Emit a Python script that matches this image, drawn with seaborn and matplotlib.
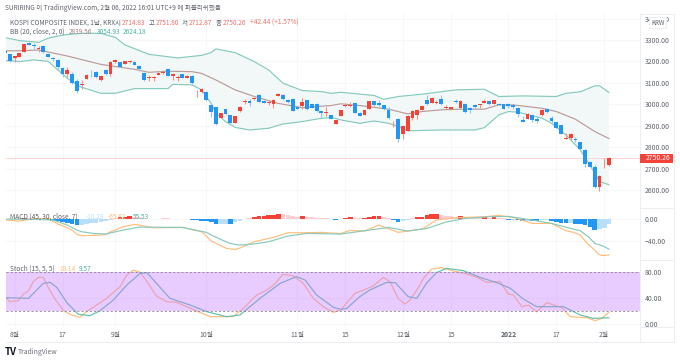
import numpy as np
import seaborn as sns
import matplotlib.pyplot as plt
from matplotlib.lines import Line2D
from matplotlib.patches import Rectangle

# candles
opens = [3249,3235,3218,3221,3244,3284,3277,3260,3272,3236,3216,3205,3168,3143,3140,3110,3090,3120,3152,3151,
         3115,3160,3141,3196,3196,3188,3199,3199,3180,3148,3123,3121,3137,3148,3165,3130,3124,3140,3123,3134,
         3056,3056,3056,2997,2986,2938,2978,2948,2913,2967,3011,3017,3023,3043,3014,3006,3001,3039,3045,3022,
         3025,2986,2992,3020,3000,3003,2967,2959,2948,2910,2946,2992,2994,3005,2961,2952,2980,3013,3008,2995,
         2974,2907,2932,2859,2876,2935,2950,2974,3020,3006,3008,3023,2981,2978,3014,2983,3002,2981,2995,2997,
         3008,3016,3003,3003,3000,2999,2997,2983,2927,2933,2949,2932,2949,2980,2936,2916,2901,2840,2841,2838,
         2824,2787,2731,2708,2614,2706,2714.83]
closes = [3241,3202,3224,3238,3280,3277,3270,3263,3244,3222,3210,3172,3143,3158,3099,3064,3093,3138,3149,3127,
          3132,3141,3199,3207,3176,3200,3204,3185,3163,3113,3126,3126,3148,3152,3132,3140,3129,3124,3134,3098,
          3059,3070,3020,2962,2908,2958,2956,2914,2944,2989,3014,3008,3029,3012,3008,3009,3020,3050,3023,3009,
          2970,2980,3012,2976,2983,2967,2961,2964,2931,2925,2971,2997,2997,2961,2947,2971,3013,2997,2995,2977,
          2935,2910,2838,2899,2946,2969,2974,2992,3003,3030,3011,3003,2985,2985,3009,3017,2963,2971,2985,3000,
          3013,2999,3019,2997,2980,2992,2989,2953,2919,2955,2927,2924,2974,2963,2921,2890,2863,2841,2862,2832,
          2790,2720,2708,2613,2664,2708,2750.26]
highs = [3253,3236,3227,3239,3281,3292,3284,3274,3277,3239,3222,3210,3176,3176,3149,3120,3112,3140,3160,3157,
         3137,3165,3204,3213,3198,3202,3207,3201,3185,3150,3137,3134,3150,3162,3166,3144,3135,3143,3136,3136,
         3067,3076,3060,3004,2989,2961,2980,2950,2946,2991,3023,3023,3033,3046,3020,3020,3023,3052,3047,3025,
         3029,2989,3028,3022,3002,3005,2970,2989,2950,2927,2973,3005,3011,3007,2966,2973,3015,3017,3020,2997,
         2986,2924,2935,2905,2948,2974,2977,2994,3041,3032,3020,3045,2997,2989,3023,3019,3005,2986,3002,3002,
         3023,3018,3021,3005,3002,3008,3002,2986,2946,2957,2952,2943,2976,2983,2946,2918,2903,2868,2868,2846,
         2826,2790,2734,2717,2670,2748,2751.80]
lows = [3238,3199,3197,3220,3243,3275,3256,3246,3238,3219,3204,3160,3126,3126,3096,3051,3070,3118,3129,3124,
        3110,3135,3134,3191,3175,3186,3191,3183,3157,3110,3109,3110,3135,3143,3131,3113,3110,3122,3121,3096,
        3032,3051,3014,2942,2903,2935,2954,2912,2911,2965,3003,2992,3020,3011,3004,2997,2983,3037,3021,3006,
        2967,2977,2980,2974,2981,2964,2934,2945,2929,2908,2944,2986,2989,2959,2943,2950,2978,2992,2989,2975,
        2930,2896,2826,2837,2874,2927,2930,2972,2997,3004,2999,2997,2977,2974,3005,2981,2958,2961,2978,2983,
        3005,2997,3001,2995,2978,2983,2980,2939,2918,2931,2918,2911,2947,2961,2911,2888,2861,2837,2834,2826,
        2788,2706,2706,2611,2593,2704,2712.87]

# bollinger bands
upper_x = [0,3,7,9,12,16,20,23,25,30,36,41,43,44,48,52,55,58,62,66,68,70,77,79,82,87,94,100,103,108,115,117,120,123,124,126]
upper_y = [3311,3297,3289,3308,3323,3331,3331,3312,3277,3233,3216,3228,3241,3258,3241,3199,3160,3098,3064,3059,3051,
           3056,3041,3023,3036,3047,3067,3070,3036,3039,3036,3051,3058,3086,3086,3054.93]
basis_x = [0,4,7,13,20,27,30,34,39,41,44,48,52,57,62,68,70,74,80,84,87,91,95,100,103,106,112,115,119,123,126]
basis_y = [3249,3250,3253,3225,3186,3163,3149,3154,3152,3144,3113,3067,3036,3004,2984,2994,3002,2994,2977,2955,2966,
           2974,2977,2977,2997,2997,2981,2966,2930,2873,2839.56]
lower_x = [0,3,6,9,11,13,15,16,20,23,27,30,34,35,39,41,43,44,46,48,51,55,58,62,64,66,68,70,74,77,80,82,84,91,98,100,
           103,105,107,112,114,117,120,122,124,126]
lower_y = [3204,3199,3207,3200,3160,3121,3090,3079,3051,3051,3073,3073,3073,3093,3090,3067,3004,2958,2919,2892,2880,
           2888,2908,2919,2927,2934,2939,2927,2911,2922,2911,2896,2876,2880,2880,2891,2950,2966,2963,2935,2911,2857,
           2787,2717,2639,2624.18]

# macd
macd_hist = [-1,-1,-1,1,2,2,1,1,-1,-1.5,-2.4,-5,-6,-7,-9,-12,-11,-9,-8.5,-7,-6,-3.6,-2,1,2.5,3.6,5,4,3,1,0.3,-0.5,-1,1,1,
             -0.8,-0.7,-1,-0.8,-1.5,-2.4,-3.6,-3.7,-5.5,-9,-8.9,-8.8,-9.6,-6,-3.6,-1.2,0.6,2.4,5,5.5,6,6.2,8.5,8,6,5,3.8,
             4.2,3,2.4,1.8,1.2,0.6,-1.2,-1.8,-1,1.2,3.6,1.8,0.6,1.8,4,4.1,4.2,2.4,0.6,-1.8,-5.5,-3.6,-2.4,0.6,2.4,3.6,6,
             8.5,8.6,7,5.5,5,4,5,2.4,1.8,1.7,1.2,2.4,1.2,3,1.2,0.6,-1.8,-1.7,-3,-4.8,-3.6,-4.8,-5,-3,-2.4,-4.2,-5.5,-7,
             -8.5,-8.4,-8.8,-10,-12,-14.5,-20,-18,-16,-10.29]
macd_x = [0,3,6,9,11,12.2,14,15,16,18.4,21,21.9,23,24.7,27,28,29,31,37,41,42,43,44.8,46.2,48,49,50.4,52,56,59,62,66,70,
          72,75,78,82,87,90,94,100,103,106,110,114,117,118.6,120,121.3,123,123.8,124.6,126]
macd_y = [-2.4,-4.2,0,0.6,-9.7,-13.3,-20.6,-28.5,-30.9,-30.3,-29,-24.2,-20.6,-14.5,-10.3,-11.5,-13.3,-16.4,-15.8,-23.6,
          -31.5,-40.6,-47.9,-53.9,-55.8,-53.3,-47.9,-41.8,-33.9,-25.5,-25.5,-24.8,-27,-21.2,-22.4,-11.5,-24.8,-18.8,-2.4,
          1.8,3.6,6,2.4,-8.5,-8.5,-21.8,-24.8,-29.7,-43.6,-57,-64.8,-67,-65.8]
signal_x = [0,6,10,13,15,16,18.4,21,24,28,37,42,43.5,45,46.9,49,51.8,55,59,63,70,74,80,84,88,92,96,101,105,110,114,118,
            120,121.7,123,124.8,126]
signal_y = [-0.6,-1.2,-2.4,-11.5,-20.6,-23.6,-26.7,-27.9,-21.8,-15.2,-15.8,-24.8,-31.5,-37.6,-44.8,-47.9,-46,-41.8,-31.5,
            -26.7,-27.9,-23,-15.8,-22.4,-17.6,-6,0.6,3.6,4.2,-2.4,-8.5,-17.6,-21.8,-32.7,-44.8,-49.7,-55.53]

# stochastic
stoch_k_x = [0.2,1,2.8,3.8,4.9,5.9,7,8,9,10.4,12.2,13.9,15.6,17,19.1,21.2,24,25.4,26.8,28.2,29.6,31.6,33.7,35.8,40,42.8,
             47.6,49.7,52.5,54.6,56,58,60.2,62.2,64.3,66.4,68.5,70,73,74.8,76.8,78.9,80.3,82,83.4,84.5,85.9,87.3,89,
             91.1,93.5,96.3,98.4,100.5,103.3,105,106,107.8,109.2,110.9,113,115.1,116.1,117.9,121.4,123.1,124.5,126]
stoch_k_y = [40.5,34.4,35.9,45.7,51.3,65.2,71.8,71.8,56.4,38.5,20.5,13.9,10.3,19,29.2,39.5,57.5,75.4,83.1,79.5,65.2,43.1,
             34.4,33.3,20,11.3,11.3,24.1,44.6,52.3,60,76.4,73.9,62.6,39.5,26.7,18,21.5,47.2,52.3,58.5,71.8,65.2,39.5,
             30.8,36.9,52.3,70.3,84.6,86.7,81.6,77,71.8,64.1,65.2,45.7,45.1,26.7,29.2,18.5,32.8,27.7,25.7,11.3,9.7,5.1,
             8.7,18.14]
stoch_d_x = [0.2,4.9,8,9.4,10.8,12.9,15.3,17.7,19.8,22.6,25.4,28.2,29.6,31.6,34.4,38.6,42.1,46.2,49,53.2,57.4,60.8,62.6,
             65,68.5,70,71.3,74,76.1,79.6,81.4,84.1,85.9,87.9,90,92.1,95.6,99.1,102.6,105.4,108.1,110.9,114.4,116.5,120,
             122.7,126]
stoch_d_y = [40.5,39.5,62.6,64.1,56.4,32.8,14.9,12.8,20.5,36.9,60,78,79,62.6,39.5,29.2,19,11.3,13.9,39.5,62.6,72.8,67.7,
             44.6,25.7,22.6,24.1,42.1,52.3,64.1,63.6,42.1,39.5,62.6,79,85.7,82.1,71.8,63.6,54.9,38.5,26.7,26.7,26.7,13.9,
             8.7,9.57]

price_ticks = [2600,2700,2800,2900,3000,3100,3200,3300,3400]
macd_ticks = [0,-40]
stoch_ticks = [0,40,80]
time_ticks = [2,12,23,42,61,71,83,93,105,115,125]
time_labels = ['8월','17','9월','10월','11월','15','12월','15','2022','17','2월']

RED, BLUE = '#F44336', '#2196F3'
LRED, LBLUE = '#FFCDD2', '#BBDEFB'
TEAL, ORANGE, BASIS = '#86CABD', '#FFBD7A', '#BD9A9A'
GRID, EDGE, TXT = '#F6F7F9', '#ECEEF1', '#5d626b'
W, H = 680, 361
LEFT, RIGHT = 5.5, 640
XMAX = (RIGHT - 5) / 4.794

sns.set_theme(style='white')
plt.rcParams['font.family'] = ['Noto Sans CJK KR', 'DejaVu Sans']
fig = plt.figure(figsize=(W / 100, H / 100), dpi=100)


def panel(top, bottom):
    ax = fig.add_axes([LEFT / W, 1 - bottom / H, (RIGHT - LEFT) / W, (bottom - top) / H])
    ax.set_xlim(0.1, XMAX)
    ax.set_xticks(time_ticks)
    ax.tick_params(axis='both', length=0)
    ax.tick_params(axis='x', labelbottom=False)
    ax.yaxis.tick_right()
    ax.grid(True, color=GRID, lw=0.8)
    ax.set_axisbelow(True)
    for s in ax.spines.values():
        s.set_visible(False)
    return ax


def line(ax, x, y, color, lw=0.85, zorder=3):
    sns.lineplot(x=x, y=y, ax=ax, color=color, lw=lw, zorder=zorder, legend=False, estimator=None, sort=False)


# main price panel
ax1 = panel(14, 208)
ax1.set_ylim(2516, 3421)
ax1.set_yticks(price_ticks)
ax1.set_yticklabels([f'{v:.2f}' for v in price_ticks])
ax1.fill(np.r_[upper_x, lower_x[::-1]], np.r_[upper_y, lower_y[::-1]], color='#F1F8F7', lw=0, zorder=1)
line(ax1, upper_x, upper_y, TEAL, zorder=2)
line(ax1, lower_x, lower_y, TEAL, zorder=2)
line(ax1, basis_x, basis_y, BASIS, zorder=2)
ax1.axhline(closes[-1], color='#FBD5D2', lw=0.7, zorder=1.5)

o, c, h, l = map(np.array, (opens, closes, highs, lows))
xs = np.arange(len(o))
cols = [RED if a >= b else BLUE for a, b in zip(c, o)]
wick_cols = ['#F98F87' if a >= b else '#8CC8F8' for a, b in zip(c, o)]
ax1.vlines(xs, l, h, colors=wick_cols, lw=0.8, zorder=4)
body = np.maximum(np.abs(c - o), 2)
ax1.bar(xs, body, bottom=np.minimum(o, c), width=0.8, color=cols, lw=0, zorder=5)

# macd panel
ax2 = panel(208, 260)
ax2.set_ylim(-75, 19.5)
ax2.set_yticks(macd_ticks)
ax2.set_yticklabels(['0.00', '−40.00'])
hist = np.array(macd_hist)
prev = np.r_[0, np.abs(hist[:-1])]
hist_cols = []
for v, p in zip(hist, prev):
    if v >= 0:
        hist_cols.append(RED if abs(v) > p else LRED)
    else:
        hist_cols.append(BLUE if abs(v) > p else LBLUE)
ax2.bar(xs, hist, width=0.98, color=hist_cols, lw=0, zorder=2)
line(ax2, macd_x, macd_y, ORANGE, zorder=3)
line(ax2, signal_x, signal_y, TEAL, zorder=3)

# stoch panel
ax3 = panel(260, 327)
ax3.set_ylim(-4.6, 98.5)
ax3.set_yticks(stoch_ticks)
ax3.set_yticklabels([f'{v:.2f}' for v in stoch_ticks])
line(ax3, stoch_k_x, stoch_k_y, ORANGE, zorder=2)
line(ax3, stoch_d_x, stoch_d_y, '#5FC0B0', zorder=2)
ax3.axhspan(20, 80, color='#C77DFF', alpha=0.4, lw=0, zorder=3)
for lev in (20, 80):
    ax3.axhline(lev, color='#8a8594', lw=0.6, ls=(0, (2.5, 2.5)), zorder=4)

# time axis
ax4 = panel(327, 342)
ax4.set_ylim(0, 1)
ax4.set_yticks([])
ax4.grid(False)
ax4.tick_params(axis='x', labelbottom=True, pad=-8, labelsize=4.9, labelcolor=TXT)
ax4.set_xticklabels(time_labels)
for t in ax4.get_xticklabels():
    if t.get_text() == '2022':
        t.set_fontweight('bold')

for ax in (ax1, ax2, ax3):
    ax.tick_params(axis='y', labelsize=4.9, labelcolor=TXT, pad=3.5)

# frame lines
for x0, y0, x1, y1 in [(LEFT, 14, 674, 14), (LEFT, 342, 674, 342), (LEFT, 208, 674, 208), (LEFT, 260, 674, 260),
                       (LEFT, 327, 674, 327), (640, 14, 640, 342), (674, 14, 674, 342)]:
    fig.add_artist(Line2D([x0 / W, x1 / W], [1 - y0 / H, 1 - y1 / H], color=EDGE, lw=0.8, zorder=0))


def label(x, y, s, color=TXT, size=4.7, **kw):
    fig.text(x / W, 1 - y / H, s, color=color, fontsize=size, va='center', zorder=10, **kw)


label(5, 8, 'SURIRING 이 TradingView.com, 2월 06, 2022 16:01 UTC+9 에 퍼블리쉬했음')
label(10, 23, 'KOSPI COMPOSITE INDEX, 1날, KRX')
for x, s in [(115, '시'), (149, '고'), (182, '저'), (216, '종')]:
    label(x, 23, s)
for x, s in [(122, '2714.83'), (156, '2751.80'), (189, '2712.87'), (223, '2750.26'), (250, '+42.44 (+1.57%)')]:
    label(x, 23, s, color='#F0706A')
label(10, 32, 'BB (20, close, 2, 0)')
label(69, 32, '2839.56', color='#A87F7F')
label(97, 32, '3054.93', color='#4DB3A2')
label(123, 32, '2624.18', color='#4DB3A2')
label(10, 217, 'MACD (45, 30, close, 7)')
label(86, 217, '-10.29', color=LBLUE)
label(108, 217, '-65.82', color=ORANGE)
label(133, 217, '55.53', color='#4DB3A2')
label(10, 269, 'Stoch (15, 5, 5)')
label(59, 269, '18.14', color=ORANGE)
label(79, 269, '9.57', color='#4DB3A2')

# KRW badge and last price tag
fig.add_artist(Rectangle((649 / W, 1 - 28 / H), 17 / W, 11 / H, transform=fig.transFigure, fc='white', ec=EDGE, lw=0.7, zorder=9))
label(651.5, 23, 'KRW', size=4.5)
fig.add_artist(Rectangle((640 / W, 1 - 162.5 / H), 33 / W, 9 / H, transform=fig.transFigure, fc='#F4433B', ec='none', zorder=9))
label(646, 158, '2750.26', color='white', size=4.9)

# footer
label(5, 352, 'TV', color='#131722', size=7, fontweight='bold')
label(18, 352, 'TradingView', color='#6a6f78', size=4.9)

fig.savefig('out.png', dpi=100)
